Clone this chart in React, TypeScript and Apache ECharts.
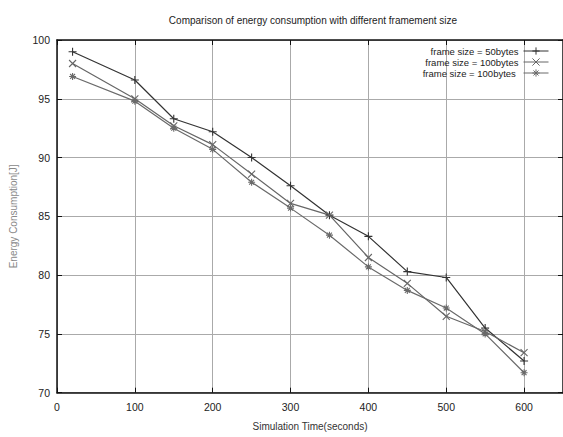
import React, { useEffect, useRef } from "react";
import * as echarts from "echarts";

const times = [20, 100, 150, 200, 250, 300, 350, 400, 450, 500, 550, 600];
const frame50 = [99.0, 96.6, 93.3, 92.2, 90.0, 87.6, 85.1, 83.3, 80.3, 79.8, 75.5, 72.7];
const frame100a = [98.0, 95.0, 92.7, 91.1, 88.6, 86.1, 85.1, 81.5, 79.3, 76.5, 75.2, 73.4];
const frame100b = [96.9, 94.8, 92.5, 90.7, 87.9, 85.7, 83.4, 80.7, 78.7, 77.2, 75.0, 71.7];
const seriesNames = ["frame size = 50bytes", "frame size = 100bytes", "frame size = 100bytes "];

const FONT = "'Liberation Sans', Arial, sans-serif";

const plusPath = "path://M0,5L10,5M5,0L5,10";
const crossPath = "path://M1,1L9,9M9,1L1,9";
const starPath = "path://M5,0L5,10M0,5L10,5M1.5,1.5L8.5,8.5M8.5,1.5L1.5,8.5";

export default function App() {
  const ref = useRef<HTMLDivElement>(null);
  useEffect(() => {
    if (!ref.current) return;
    const chart = echarts.init(ref.current, undefined, { renderer: "svg" });
    const mk = (name: string, vals: number[], color: string, symbol: string, size: number) => ({
      name,
      type: "line",
      data: times.map((t, i) => [t, vals[i]]),
      symbol,
      symbolSize: size,
      showSymbol: true,
      lineStyle: { color, width: 1.2 },
      itemStyle: { color, borderColor: color, borderWidth: 1.1 },
      z: 3,
    });
    chart.setOption({
      animation: false,
      backgroundColor: "#fff",
      title: {
        text: "Comparison of energy consumption with different framement size",
        left: 308,
        textAlign: "center",
        top: 10,
        textStyle: { fontFamily: FONT, fontSize: 10, fontWeight: "normal", color: "#222" },
      },
      legend: {
        orient: "vertical",
        right: 9,
        top: 41,
        align: "right",
        itemWidth: 25,
        itemHeight: 9,
        itemGap: 1,
        lineStyle: { width: 1 },
        itemStyle: { borderWidth: 1 },
        textStyle: { fontFamily: FONT, fontSize: 9.5, color: "#222" },
        data: seriesNames,
      },
      grid: { left: 51.7, top: 40, right: -2.5, bottom: 44.3 },
      xAxis: [
        {
          type: "value",
          min: 0,
          max: 650,
          interval: 100,
          name: "Simulation Time(seconds)",
          nameLocation: "middle",
          nameGap: 29,
          nameTextStyle: { fontFamily: FONT, fontSize: 10, color: "#333" },
          axisLine: { show: true, lineStyle: { color: "#111", width: 1.5 } },
          axisTick: { show: true, inside: true, length: 5, lineStyle: { color: "#111" } },
          axisLabel: { fontFamily: FONT, fontSize: 10.5, color: "#222", margin: 9, showMaxLabel: false },
          splitLine: { show: true, lineStyle: { color: "#aaa", width: 1 } },
        },
        {
          type: "value",
          position: "top",
          min: 0,
          max: 650,
          interval: 100,
          axisLine: { show: true, onZero: false, lineStyle: { color: "#111", width: 1.5 } },
          axisTick: { show: true, inside: true, length: 5, lineStyle: { color: "#111" } },
          axisLabel: { show: false },
          splitLine: { show: false },
        },
      ],
      yAxis: [
        {
          type: "value",
          min: 70,
          max: 100,
          interval: 5,
          name: "Energy Consumption[J]",
          nameLocation: "middle",
          nameGap: 39,
          nameRotate: 90,
          nameTextStyle: { fontFamily: FONT, fontSize: 10, color: "#888" },
          axisLine: { show: true, lineStyle: { color: "#111", width: 1.5 } },
          axisTick: { show: true, inside: true, length: 5, lineStyle: { color: "#111" } },
          axisLabel: { fontFamily: FONT, fontSize: 10.5, color: "#222", margin: 7 },
          splitLine: { show: true, lineStyle: { color: "#aaa", width: 1 } },
        },
        {
          type: "value",
          position: "right",
          min: 70,
          max: 100,
          interval: 5,
          axisLine: { show: true, onZero: false, lineStyle: { color: "#111", width: 1.5 } },
          axisTick: { show: true, inside: true, length: 5, lineStyle: { color: "#111" } },
          axisLabel: { show: false },
          splitLine: { show: false },
        },
      ],
      series: [
        mk(seriesNames[0], frame50, "#333", plusPath, 8),
        mk(seriesNames[1], frame100a, "#666", crossPath, 7),
        mk(seriesNames[2], frame100b, "#6a6a6a", starPath, 7),
      ],
    });
    return () => chart.dispose();
  }, []);
  return (
    <div style={{ position: "absolute", left: 0, top: 0, width: 563, height: 437, overflow: "hidden" }}>
      <div ref={ref} style={{ width: 563, height: 437 }} />
    </div>
  );
}
